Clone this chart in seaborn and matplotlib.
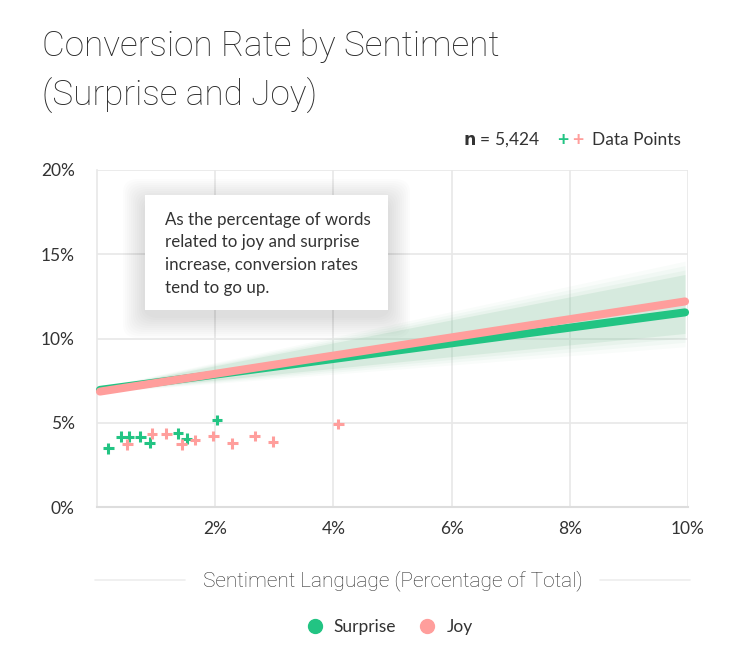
import numpy as np
import pandas as pd
import matplotlib
matplotlib.use("Agg")
import matplotlib.pyplot as plt
from matplotlib.patches import FancyBboxPatch
from matplotlib.lines import Line2D
import seaborn as sns

# ---------------- data ----------------
surprise_x = [0.19, 0.41, 0.54, 0.73, 0.89, 1.37, 1.52, 2.03]
surprise_y = [3.48, 4.17, 4.17, 4.17, 3.81, 4.37, 4.05, 5.16]
joy_x = [0.51, 0.93, 1.17, 1.43, 1.66, 1.97, 2.29, 2.67, 2.98, 4.08]
joy_y = [3.72, 4.35, 4.35, 3.72, 3.97, 4.21, 3.77, 4.21, 3.87, 4.92]

fit_x = [0.05, 9.95]
surprise_fit = [6.95, 11.55]
joy_fit = [6.85, 12.2]
band_lo = [6.85, 10.3]
band_hi = [7.05, 13.8]

x_ticks = [2, 4, 6, 8, 10]
x_tick_labels = ["2%", "4%", "6%", "8%", "10%"]
y_ticks = [0, 5, 10, 15, 20]
y_tick_labels = ["0%", "5%", "10%", "15%", "20%"]

series = ["Surprise", "Joy"]
n_total = "5,424"
title = "Conversion Rate by Sentiment\n(Surprise and Joy)"
xlabel = "Sentiment Language (Percentage of Total)"
note = "As the percentage of words\nrelated to joy and surprise\nincrease, conversion rates\ntend to go up."

GREEN = "#22c483"
PINK = "#ff9e9c"
TEXT = "#333333"
GRID = "#e8e8e8"

sns.set_theme(style="white")
plt.rcParams["font.family"] = ["Lato", "DejaVu Sans"]

fig = plt.figure(figsize=(7.5, 6.72), dpi=100)
ax = fig.add_axes([97 / 750, 1 - 507 / 672, (688 - 97) / 750, (507 - 170) / 672])

# grid
for xv in x_ticks:
    ax.axvline(xv, color=GRID, lw=1.2, zorder=0)
for yv in y_ticks[1:]:
    ax.axhline(yv, color=GRID, lw=1.2, zorder=0)

# confidence band (feathered)
xs = np.linspace(fit_x[0], fit_x[1], 100)
lo = np.interp(xs, fit_x, band_lo)
hi = np.interp(xs, fit_x, band_hi)
mid = (lo + hi) / 2
hw = (hi - lo) / 2
for k, a in [(1.45, 0.05), (1.3, 0.07), (1.15, 0.09), (1.0, 0.2)]:
    ax.fill_between(xs, mid - hw * k, mid + hw * k, color="#8fcaa6", alpha=a, lw=0, zorder=1)

fit_df = pd.DataFrame({
    "x": fit_x * 2,
    "y": surprise_fit + joy_fit,
    "series": [series[0]] * 2 + [series[1]] * 2,
})
sns.lineplot(data=fit_df, x="x", y="y", hue="series", palette=[GREEN, PINK],
             lw=5.8, legend=False, ax=ax, zorder=3, solid_capstyle="round", clip_on=False)

pts = pd.DataFrame({
    "x": surprise_x + joy_x,
    "y": surprise_y + joy_y,
    "series": [series[0]] * len(surprise_x) + [series[1]] * len(joy_x),
})
sns.scatterplot(data=pts, x="x", y="y", hue="series", palette=[GREEN, PINK],
                marker="+", s=60, linewidth=2.2, legend=False, ax=ax, zorder=4)

ax.set_xlim(0, 10)
ax.set_ylim(0, 20)
ax.set_xticks(x_ticks)
ax.set_xticklabels(x_tick_labels)
ax.set_yticks(y_ticks)
ax.set_yticklabels(y_tick_labels)
ax.tick_params(axis="both", length=0, labelsize=12.5, colors=TEXT)
ax.tick_params(axis="x", pad=10)
ax.tick_params(axis="y", pad=16)
ax.set_xlabel("")
ax.set_ylabel("")
for s in ["top", "right"]:
    ax.spines[s].set_visible(False)
ax.spines["left"].set_color(GRID)
ax.spines["bottom"].set_color("#dddddd")
ax.spines["bottom"].set_linewidth(1.5)
ax.spines["left"].set_linewidth(1.2)

# title
fig.text(42 / 750, 1 - 29 / 672, title, ha="left", va="top", fontsize=25.3,
         color="#2b2b2b", fontweight="light", family=["Roboto", "DejaVu Sans"], linespacing=1.55)

# n = ... Data Points
fig.text(540 / 750, 1 - 140 / 672, r"$\bf{n}$" + " = " + n_total, ha="right", va="center",
         fontsize=12.5, color=TEXT)
fig.text(563 / 750, 1 - 140 / 672, "+", ha="center", va="center", fontsize=14,
         color=GREEN, fontweight="bold")
fig.text(578 / 750, 1 - 140 / 672, "+", ha="center", va="center", fontsize=14,
         color=PINK, fontweight="bold")
fig.text(592 / 750, 1 - 140 / 672, "Data Points", ha="left", va="center",
         fontsize=12.5, color=TEXT)

# annotation box with soft shadow
bx0, by0, bx1, by1 = 145, 195, 388, 310
for g in range(22, 0, -2):
    fig.patches.append(FancyBboxPatch(
        ((bx0 - g) / 750, 1 - (by1 + g + 6) / 672), (bx1 - bx0 + 2 * g) / 750, (by1 - by0 + 2 * g) / 672,
        boxstyle="round,pad=0,rounding_size=0.02", transform=fig.transFigure,
        facecolor="black", edgecolor="none", alpha=0.01, zorder=5))
fig.patches.append(FancyBboxPatch(
    (bx0 / 750, 1 - by1 / 672), (bx1 - bx0) / 750, (by1 - by0) / 672,
    boxstyle="square,pad=0", transform=fig.transFigure,
    facecolor="white", edgecolor="none", zorder=6))
fig.text(165 / 750, 1 - 212 / 672, note, ha="left", va="top", fontsize=12.2,
         color=TEXT, linespacing=1.5, zorder=7)

# x label with side rules
fig.text(393 / 750, 1 - 581 / 672, xlabel, ha="center", va="center", fontsize=15,
         color="#2b2b2b", fontweight="light", family=["Roboto", "DejaVu Sans"])
fig.add_artist(Line2D([95 / 750, 185 / 750], [1 - 580 / 672] * 2, color="#eeeeee", lw=1.2))
fig.add_artist(Line2D([600 / 750, 690 / 750], [1 - 580 / 672] * 2, color="#eeeeee", lw=1.2))

# legend
handles = [Line2D([], [], marker="o", ls="", color=c, markersize=10) for c in [GREEN, PINK]]
fig.legend(handles, series, loc="center", bbox_to_anchor=(385 / 750, 1 - 627 / 672),
           ncol=2, frameon=False, fontsize=12.5, handletextpad=0.1, columnspacing=0.8,
           labelcolor=TEXT)

fig.savefig("out.png", dpi=100, facecolor="white")
